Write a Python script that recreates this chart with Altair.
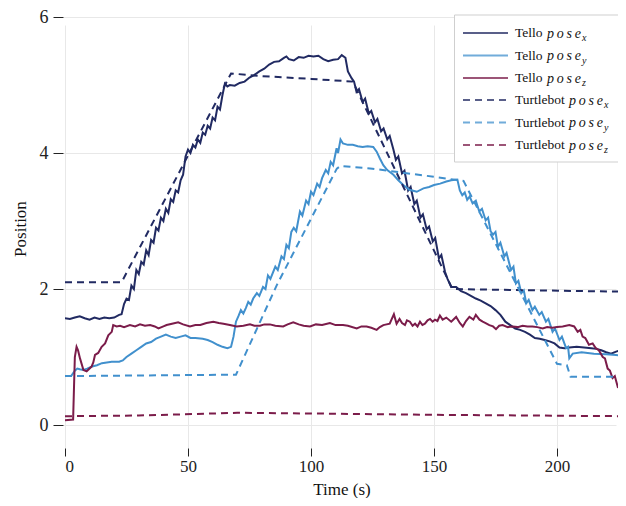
import altair as alt
import pandas as pd

# ---------------- data ----------------
tello_x_t = [0, 2, 4, 6, 8, 10, 12, 14, 16, 18, 20, 22, 23, 24, 25, 26, 27, 28, 29, 30, 31, 32, 33, 34, 35, 36, 37, 38, 39, 40,
             41, 42, 43, 44, 45, 46, 47, 48, 49, 50, 51, 52, 53, 54, 55, 56, 57, 58, 59, 60, 61, 62, 63, 64, 65, 66, 67, 69, 71, 73,
             75, 77, 79, 81, 83, 85, 87, 89, 90, 91, 93, 95, 97, 99, 101, 103, 105, 107, 109, 111, 112.5, 114, 115, 116.5, 117.5,
             118.5, 119.5, 121, 122, 123.5, 124.5, 126, 127, 128.5, 129.5, 131, 132, 133.5, 134.5, 135.5, 137, 138, 139.5, 140.5,
             142, 143, 144.5, 145.5, 147, 148, 149.5, 150.5, 152, 153, 154.5, 155.5, 157, 159, 161, 163, 165, 167, 169, 171, 173,
             175, 177, 179, 181, 183, 185, 187, 189, 191, 193, 195, 197, 199, 201, 203, 205, 208, 211, 214, 216, 218, 220, 222,
             224, 226, 228]
tello_x_v = [1.57, 1.56, 1.58, 1.60, 1.57, 1.55, 1.58, 1.56, 1.58, 1.57, 1.58, 1.62, 1.63, 1.78, 1.86, 1.84, 2.05, 2.00, 2.28, 2.22,
             2.40, 2.36, 2.57, 2.50, 2.72, 2.68, 2.90, 2.86, 3.05, 3.00, 3.18, 3.12, 3.32, 3.28, 3.45, 3.42, 3.60, 3.68, 3.95, 4.05,
             4.00, 4.12, 4.08, 4.20, 4.15, 4.30, 4.27, 4.40, 4.36, 4.52, 4.48, 4.68, 4.64, 4.85, 5.02, 4.98, 5.00, 4.99, 5.03, 5.05,
             5.11, 5.15, 5.20, 5.24, 5.30, 5.34, 5.35, 5.40, 5.42, 5.38, 5.36, 5.41, 5.40, 5.43, 5.42, 5.43, 5.38, 5.35, 5.37, 5.38,
             5.44, 5.40, 5.20, 5.10, 5.05, 4.90, 4.94, 4.75, 4.80, 4.58, 4.62, 4.45, 4.50, 4.32, 4.36, 4.20, 4.25, 4.05, 3.90, 3.95,
             3.70, 3.74, 3.45, 3.50, 3.25, 3.30, 3.05, 3.10, 2.88, 2.92, 2.70, 2.75, 2.45, 2.50, 2.25, 2.15, 2.03, 2.03, 1.97, 1.94,
             1.90, 1.86, 1.83, 1.79, 1.75, 1.69, 1.62, 1.52, 1.47, 1.42, 1.40, 1.37, 1.33, 1.28, 1.27, 1.25, 1.23, 1.20, 1.14, 1.13,
             1.14, 1.15, 1.14, 1.13, 1.12, 1.10, 1.07, 1.05, 1.08, 1.10, 1.13]

tello_y_t = [0, 2.5, 4, 5, 6, 7.5, 9, 11, 13, 15, 17, 19, 22, 23.5, 25, 27, 29, 31, 33, 35, 37, 39, 41, 43, 45, 47, 49, 51, 53, 56,
             58, 60, 62, 64, 66, 67.5, 68.5, 69.5, 70.5, 71.5, 72.5, 73.5, 74.5, 75.5, 76.5, 78, 79, 80.5, 81.5, 82.5, 83.5, 85.5,
             86.5, 88, 89, 90, 91, 92, 93, 94, 95.5, 96.5, 98, 99, 100, 101, 102.5, 103.5, 104.5, 106, 107, 108, 109, 110.4, 111,
             112, 113, 115, 117, 119, 121, 123, 125.3, 126.7, 128, 129.4, 131, 133.5, 135.5, 137.5, 140, 143, 145.7, 148, 150,
             152.5, 155, 157, 159.5, 160.5, 161.5, 162.5, 163.5, 164.5, 165.7, 167, 168.4, 169.5, 171, 172, 173, 174, 175, 176,
             177, 178.6, 179.5, 181.3, 182.3, 183.3, 184.3, 185.5, 186.5, 187.5, 188.5, 190, 191, 192.8, 193.8, 195.5, 196.5,
             198.2, 199.2, 201, 202, 203.7, 204.5, 205, 206.4, 210, 215, 220, 224, 228]
tello_y_v = [0.72, 0.72, 0.80, 0.83, 0.82, 0.81, 0.83, 0.86, 0.88, 0.91, 0.92, 0.93, 0.93, 0.95, 1.00, 1.05, 1.10, 1.15, 1.20, 1.22,
             1.27, 1.30, 1.33, 1.30, 1.28, 1.30, 1.32, 1.28, 1.28, 1.27, 1.25, 1.22, 1.18, 1.15, 1.13, 1.15, 1.30, 1.52, 1.60, 1.69,
             1.64, 1.72, 1.81, 1.77, 1.86, 1.94, 1.90, 2.03, 2.00, 2.20, 2.15, 2.33, 2.28, 2.48, 2.44, 2.65, 2.60, 2.84, 2.90, 2.85,
             3.14, 3.08, 3.30, 3.25, 3.43, 3.38, 3.55, 3.50, 3.63, 3.75, 3.70, 3.87, 3.82, 4.07, 4.00, 4.20, 4.14, 4.12, 4.12, 4.10,
             4.09, 4.10, 4.09, 4.02, 3.92, 3.82, 3.75, 3.68, 3.60, 3.53, 3.46, 3.43, 3.48, 3.50, 3.53, 3.55, 3.58, 3.60, 3.61, 3.45,
             3.38, 3.42, 3.31, 3.36, 3.26, 3.30, 3.14, 3.18, 3.01, 3.05, 2.85, 2.80, 2.84, 2.62, 2.68, 2.48, 2.53, 2.28, 2.33, 2.08,
             2.12, 1.94, 1.98, 1.79, 1.84, 1.69, 1.74, 1.62, 1.66, 1.52, 1.56, 1.37, 1.42, 1.25, 1.30, 1.13, 1.15, 0.98, 1.05, 1.07,
             1.05, 1.04, 1.03, 1.02]

tello_z_t = [0, 3.3, 4, 4.7, 5.3, 6.1, 7.5, 8.8, 10.8, 11.5, 12.2, 13.5, 14.9, 16.3, 17.6, 19, 19.6, 21, 22.4, 24, 26.4, 28.5, 30.5,
             32.5, 34.6, 36.5, 38, 40, 41.3, 43.5, 46, 48, 50.8, 53, 55, 57.5, 60.3, 62.5, 64.4, 67, 69.8, 72.5, 75.2, 77, 79.3, 81,
             83.3, 85.5, 88.7, 90.5, 92.8, 95, 97, 99.6, 102, 104.5, 107.7, 110, 113, 115, 118.6, 120.5, 122.6, 124.5, 126.7, 128,
             129.4, 132, 133.7, 134.8, 136, 137, 138.2, 139, 140.2, 141.3, 142.3, 143.3, 144.3, 145.3, 146.3, 147.4, 148.4, 149.4,
             150.4, 151.4, 152.4, 153.5, 155, 157, 159, 160.5, 161.7, 163, 164.4, 166, 167, 168.5, 169.8, 171, 172.5, 174, 175.2,
             176.5, 177.9, 180, 182, 184, 186, 188, 190, 192, 194.2, 196, 198.2, 200, 202.3, 205, 207, 208.4, 209.5, 210.4, 211.5,
             213, 214.5, 215.8, 217, 218.6, 219.5, 220.6, 221.5, 222.6, 223.5, 224.7, 226, 228]
tello_z_v = [0.07, 0.08, 1.00, 1.15, 1.10, 0.98, 0.81, 0.79, 0.86, 0.92, 1.03, 1.06, 1.15, 1.20, 1.32, 1.37, 1.47, 1.45, 1.46, 1.44,
             1.47, 1.45, 1.48, 1.46, 1.47, 1.45, 1.42, 1.45, 1.47, 1.49, 1.51, 1.48, 1.45, 1.47, 1.47, 1.50, 1.52, 1.50, 1.49, 1.47,
             1.45, 1.46, 1.48, 1.46, 1.46, 1.48, 1.48, 1.46, 1.45, 1.48, 1.51, 1.48, 1.46, 1.45, 1.48, 1.47, 1.50, 1.47, 1.47, 1.46,
             1.42, 1.45, 1.45, 1.43, 1.40, 1.44, 1.47, 1.49, 1.63, 1.49, 1.56, 1.50, 1.47, 1.54, 1.52, 1.46, 1.49, 1.45, 1.52, 1.47,
             1.49, 1.54, 1.56, 1.52, 1.55, 1.53, 1.61, 1.55, 1.58, 1.52, 1.59, 1.50, 1.45, 1.53, 1.59, 1.55, 1.62, 1.55, 1.52, 1.50,
             1.47, 1.45, 1.41, 1.46, 1.47, 1.44, 1.45, 1.44, 1.46, 1.45, 1.45, 1.44, 1.42, 1.44, 1.43, 1.44, 1.45, 1.47, 1.45, 1.37,
             1.40, 1.30, 1.28, 1.18, 1.20, 1.13, 1.10, 1.00, 0.98, 0.83, 0.80, 0.69, 0.72, 0.56, 0.58, 0.58]

turtle_x_t = [0, 23, 67.5, 80, 100, 117, 157.5, 228]
turtle_x_v = [2.10, 2.10, 5.17, 5.13, 5.09, 5.05, 2.00, 1.96]

turtle_y_t = [0, 69.5, 86, 110.5, 112, 125, 150, 162, 200, 204, 205.5, 228]
turtle_y_v = [0.72, 0.74, 2.05, 3.77, 3.81, 3.77, 3.65, 3.59, 0.90, 0.88, 0.71, 0.71]

turtle_z_t = [0, 30, 70, 100, 150, 228]
turtle_z_v = [0.13, 0.14, 0.18, 0.17, 0.15, 0.13]

series_names = ["Tello x", "Tello y", "Tello z", "Turtlebot x", "Turtlebot y", "Turtlebot z"]
series_colors = ["#212a62", "#4190cd", "#7b1c4a", "#212a62", "#4190cd", "#7b1c4a"]
legend_prefix = ["Tello", "Tello", "Tello", "Turtlebot", "Turtlebot", "Turtlebot"]
legend_sub = ["x", "y", "z", "x", "y", "z"]

x_ticks = [0, 50, 100, 150, 200]
y_ticks = [0, 2, 4, 6]

series_t = [tello_x_t, tello_y_t, tello_z_t, turtle_x_t, turtle_y_t, turtle_z_t]
series_v = [tello_x_v, tello_y_v, tello_z_v, turtle_x_v, turtle_y_v, turtle_z_v]

FONT = "Liberation Serif"
W, H = 553, 423

xscale = alt.Scale(domain=[0, 224.8], nice=False, zero=False)
yscale = alt.Scale(domain=[-0.22, 6], nice=False, zero=False)
x_axis = alt.Axis(values=x_ticks, title="Time (s)", grid=True)
y_axis = alt.Axis(values=y_ticks, title="Position", grid=True)

layers = []
for i, name in enumerate(series_names):
    df = pd.DataFrame({"t": series_t[i], "v": series_v[i]})
    dashed = name.startswith("Turtlebot")
    mk = dict(color=series_colors[i], strokeWidth=2.0, clip=True)
    if dashed:
        mk["strokeDash"] = [7, 5]
    layers.append(alt.Chart(df).mark_line(**mk).encode(
        x=alt.X("t:Q", scale=xscale, axis=x_axis),
        y=alt.Y("v:Q", scale=yscale, axis=y_axis),
    ))

# ---------------- legend (drawn by hand to get the math-style labels) ----------------
row_y = [16, 38.5, 61, 83, 105.5, 128]
box = alt.Chart(pd.DataFrame({"a": [0]})).mark_rect(
    fill="white", stroke="#cfcfcf", strokeWidth=1
).encode(x=alt.value(389.5), x2=alt.value(560), y=alt.value(-2), y2=alt.value(145))
layers.append(box)
for i in range(6):
    dashed = legend_prefix[i] == "Turtlebot"
    rk = dict(color=series_colors[i], strokeWidth=2.0, opacity=0.75)
    if dashed:
        rk["strokeDash"] = [7, 5]
    d0 = pd.DataFrame({"a": [0]})
    layers.append(alt.Chart(d0).mark_rule(**rk).encode(
        x=alt.value(398), x2=alt.value(443), y=alt.value(row_y[i])))
    pose_x = 482 if not dashed else 504
    layers.append(alt.Chart(d0).mark_text(
        align="left", baseline="middle", font=FONT, fontSize=13.5, color="#111"
    ).encode(x=alt.value(450), y=alt.value(row_y[i]), text=alt.value(legend_prefix[i])))
    layers.append(alt.Chart(d0).mark_text(
        align="left", baseline="middle", font=FONT, fontSize=14, fontStyle="italic", color="#111"
    ).encode(x=alt.value(pose_x), y=alt.value(row_y[i] + 0.5), text=alt.value("p\u2009o\u2009s\u2009e")))
    layers.append(alt.Chart(d0).mark_text(
        align="left", baseline="middle", font=FONT, fontSize=10, fontStyle="italic", color="#111"
    ).encode(x=alt.value(pose_x + 35), y=alt.value(row_y[i] + 5), text=alt.value(legend_sub[i])))

chart = alt.layer(*layers).properties(
    width=W, height=H,
    autosize=alt.AutoSizeParams(type="none"),
    padding={"left": 57, "top": 9, "right": 0, "bottom": 58},
    background="white",
).configure_view(stroke=None).configure_axis(
    domain=False,
    gridColor="#e8e8e8",
    gridWidth=1,
    tickColor="#222222",
    tickWidth=1,
    labelFont=FONT,
    labelFontSize=17,
    labelColor="#222222",
    titleFont=FONT,
    titleFontWeight="normal",
    titleColor="#111111",
).configure_axisX(
    offset=8, tickSize=8, labelPadding=2, titleFontSize=17,
    titleBaseline="alphabetic", titleY=46
).configure_axisY(
    offset=2, tickSize=10, labelPadding=5, labelFontSize=18, titleFontSize=17, titlePadding=10
)

chart.save("out.html", embed_options={"renderer": "svg", "actions": False})
